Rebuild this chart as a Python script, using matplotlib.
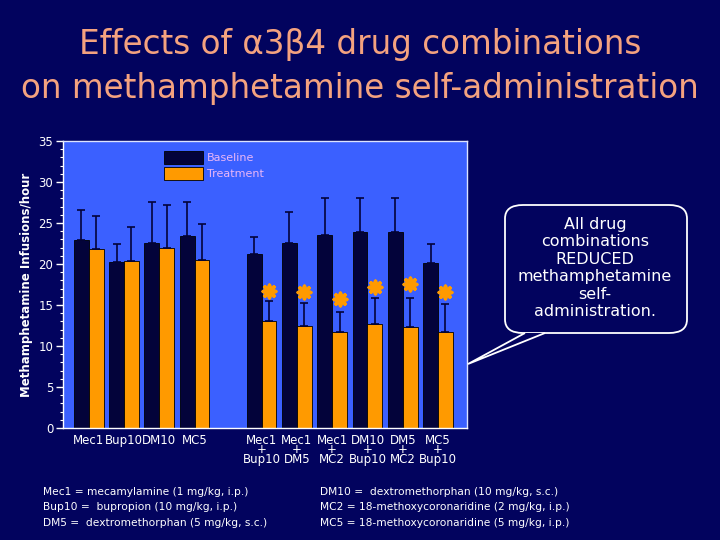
import numpy as np
import matplotlib.pyplot as plt
from matplotlib.patches import FancyBboxPatch, Polygon

# data
single_labels = ["Mec1", "Bup10", "DM10", "MC5"]
combo_labels = ["Mec1\n+\nBup10", "Mec1\n+\nDM5", "Mec1\n+\nMC2",
                "DM10\n+\nBup10", "DM5\n+\nMC2", "MC5\n+\nBup10"]
baseline = [22.9, 20.3, 22.5, 23.4, 21.2, 22.6, 23.5, 23.9, 23.9, 20.1]
baseline_err = [3.7, 2.1, 5.0, 4.1, 2.1, 3.8, 4.5, 4.1, 4.2, 2.3]
treatment = [21.8, 20.4, 21.9, 20.5, 13.0, 12.4, 11.7, 12.7, 12.3, 11.7]
treatment_err = [4.1, 4.1, 5.3, 4.4, 2.5, 2.8, 2.5, 3.2, 3.6, 3.4]
star_y = [16.7, 16.6, 15.7, 17.2, 17.5, 16.6]

footnote_left = ["Mec1 = mecamylamine (1 mg/kg, i.p.)",
                 "Bup10 =  bupropion (10 mg/kg, i.p.)",
                 "DM5 =  dextromethorphan (5 mg/kg, s.c.)"]
footnote_right = ["DM10 =  dextromethorphan (10 mg/kg, s.c.)",
                  "MC2 = 18-methoxycoronaridine (2 mg/kg, i.p.)",
                  "MC5 = 18-methoxycoronaridine (5 mg/kg, i.p.)"]

BG = "#02035e"
PLOT_BG = "#3b60ff"
NAVY = "#03033a"
ORANGE = "#ff9a00"

plt.rcParams["font.family"] = "DejaVu Sans"

fig = plt.figure(figsize=(7.2, 5.4), dpi=100, facecolor=BG)
ax = fig.add_axes([0.0875, 0.2074, 0.561, 0.5315])
ax.set_facecolor(PLOT_BG)

labels = single_labels + combo_labels
x = np.concatenate([np.arange(len(single_labels)),
                    np.arange(len(combo_labels)) + 4.9])
w = 0.42

ax.bar(x - w / 2, baseline, w, yerr=[np.zeros(len(baseline)), baseline_err],
       color=NAVY, edgecolor="black", linewidth=0.6, label="Baseline",
       error_kw=dict(ecolor=NAVY, elinewidth=1.2, capsize=3, capthick=1.2))
ax.bar(x + w / 2, treatment, w, yerr=[np.zeros(len(treatment)), treatment_err],
       color=ORANGE, edgecolor="black", linewidth=0.6, label="Treatment",
       error_kw=dict(ecolor=NAVY, elinewidth=1.2, capsize=3, capthick=1.2))

ax.scatter(x[4:] + w / 2, star_y, marker=(8, 2, 0), s=80, linewidths=2.6,
           color=ORANGE, zorder=5)

ax.set_xlim(-0.73, 10.72)
ax.set_ylim(0, 35)
ax.set_yticks(np.arange(0, 36, 5))
ax.set_yticks(np.arange(0, 36, 1), minor=True)
ax.set_xticks(x)
ax.set_xticklabels(labels, linespacing=0.65)
ax.tick_params(axis="x", length=0, colors="white", labelsize=8.5, pad=4)
ax.tick_params(axis="y", which="major", length=5, width=1, colors="white",
               labelsize=8.5, pad=2)
ax.tick_params(axis="y", which="minor", length=2.5, width=0.8, colors="white")
for s in ax.spines.values():
    s.set_color("#dde4ff")
    s.set_linewidth(1)
ax.spines["left"].set_color("white")
ax.spines["bottom"].set_color("white")

ax.set_ylabel("Methamphetamine Infusions/hour", color="white", fontsize=8.5,
              fontweight="bold", labelpad=4)

leg = ax.legend(loc="upper left", bbox_to_anchor=(0.225, 1.0), frameon=False,
                fontsize=8, handlelength=3.5, handleheight=1.4,
                labelspacing=0.3, handletextpad=0.4)
for t in leg.get_texts():
    t.set_color("#e9b6f7")

fig.text(0.5, 0.917, "Effects of \u03b13\u03b24 drug combinations",
         ha="center", va="center", fontsize=23.5, color="#f4a27f")
fig.text(0.5, 0.837, "on methamphetamine self-administration",
         ha="center", va="center", fontsize=23.5, color="#f4a27f")

# callout bubble
bubble = FancyBboxPatch((505 / 720, 1 - 333 / 540), 182 / 720, 128 / 540,
                        boxstyle="round,pad=0,rounding_size=0.025",
                        transform=fig.transFigure, facecolor=BG,
                        edgecolor="white", linewidth=1.3)
fig.patches.append(bubble)
tail = Polygon([(525 / 720, 1 - 333 / 540), (468 / 720, 1 - 364 / 540),
                (545 / 720, 1 - 333 / 540)], closed=False,
               transform=fig.transFigure, facecolor=BG, edgecolor="white",
               linewidth=1.3)
fig.patches.append(tail)
fig.text(595 / 720, 1 - 268 / 540,
         "All drug\ncombinations\nREDUCED\nmethamphetamine\nself-\nadministration.",
         ha="center", va="center", fontsize=11.5, color="white", linespacing=1.2)

for i, line in enumerate(footnote_left):
    fig.text(43 / 720, 1 - (492 + 15.5 * i) / 540, line, ha="left",
             va="center", fontsize=7.7, color="white")
for i, line in enumerate(footnote_right):
    fig.text(320 / 720, 1 - (492 + 15.5 * i) / 540, line, ha="left",
             va="center", fontsize=7.7, color="white")

fig.savefig("out.png", dpi=100, facecolor=BG)
